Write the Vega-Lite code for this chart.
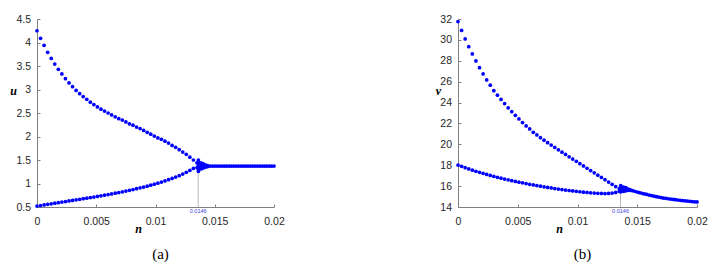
{
  "$schema": "https://vega.github.io/schema/vega-lite/v6.json",
  "background": "white",
  "padding": {"left": 9, "top": 14, "right": 5, "bottom": 0},
  "spacing": 150,
  "config": {
    "view": {"stroke": null},
    "axis": {
      "grid": false,
      "domainColor": "#808080",
      "tickColor": "#808080",
      "tickSize": -3,
      "labelFont": "Liberation Sans",
      "labelFontSize": 10.5,
      "labelColor": "#262626",
      "labelFlush": false,
      "labelOverlap": false,
      "titleFont": "Liberation Serif",
      "titleFontStyle": "italic",
      "titleFontWeight": "bold",
      "titleFontSize": 12,
      "titleColor": "#000000"
    },
    "axisX": {"labelPadding": 12},
    "axisY": {"labelPadding": 9.5}
  },
  "datasets": {
    "pts": [
      {"n": 0, "u": 4.25, "v": 31.75},
      {"n": 0.0003, "u": 4.09, "v": 30.9},
      {"n": 0.0006, "u": 3.94, "v": 30.09},
      {"n": 0.0009, "u": 3.79, "v": 29.35},
      {"n": 0.0012, "u": 3.66, "v": 28.65},
      {"n": 0.0015, "u": 3.54, "v": 27.98},
      {"n": 0.0018, "u": 3.43, "v": 27.34},
      {"n": 0.0021, "u": 3.33, "v": 26.74},
      {"n": 0.0024, "u": 3.23, "v": 26.16},
      {"n": 0.0027, "u": 3.14, "v": 25.66},
      {"n": 0.003, "u": 3.06, "v": 25.14},
      {"n": 0.0033, "u": 2.98, "v": 24.7},
      {"n": 0.0036, "u": 2.91, "v": 24.3},
      {"n": 0.0039, "u": 2.85, "v": 23.9},
      {"n": 0.0042, "u": 2.79, "v": 23.5},
      {"n": 0.0045, "u": 2.73, "v": 23.13},
      {"n": 0.0048, "u": 2.68, "v": 22.78},
      {"n": 0.0051, "u": 2.63, "v": 22.43},
      {"n": 0.0054, "u": 2.58, "v": 22.08},
      {"n": 0.0057, "u": 2.54, "v": 21.76},
      {"n": 0.006, "u": 2.5, "v": 21.47},
      {"n": 0.0063, "u": 2.46, "v": 21.15},
      {"n": 0.0066, "u": 2.42, "v": 20.9},
      {"n": 0.0069, "u": 2.38, "v": 20.64},
      {"n": 0.0072, "u": 2.35, "v": 20.4},
      {"n": 0.0075, "u": 2.31, "v": 20.16},
      {"n": 0.0078, "u": 2.27, "v": 19.93},
      {"n": 0.0081, "u": 2.24, "v": 19.7},
      {"n": 0.0084, "u": 2.2, "v": 19.47},
      {"n": 0.0087, "u": 2.17, "v": 19.25},
      {"n": 0.009, "u": 2.13, "v": 19.03},
      {"n": 0.0093, "u": 2.09, "v": 18.81},
      {"n": 0.0096, "u": 2.05, "v": 18.59},
      {"n": 0.0099, "u": 2.01, "v": 18.37},
      {"n": 0.0102, "u": 1.97, "v": 18.15},
      {"n": 0.0105, "u": 1.94, "v": 17.93},
      {"n": 0.0108, "u": 1.9, "v": 17.71},
      {"n": 0.0111, "u": 1.86, "v": 17.49},
      {"n": 0.0114, "u": 1.81, "v": 17.27},
      {"n": 0.0117, "u": 1.77, "v": 17.05},
      {"n": 0.012, "u": 1.72, "v": 16.83},
      {"n": 0.0123, "u": 1.67, "v": 16.61},
      {"n": 0.0126, "u": 1.62, "v": 16.39},
      {"n": 0.0129, "u": 1.56, "v": 16.17},
      {"n": 0.0132, "u": 1.5, "v": 15.96},
      {"n": 0.0135, "u": 1.44, "v": 15.75},
      {"n": 0, "u": 0.52, "v": 18.02},
      {"n": 0.0003, "u": 0.53, "v": 17.89},
      {"n": 0.0006, "u": 0.545, "v": 17.76},
      {"n": 0.0009, "u": 0.557, "v": 17.64},
      {"n": 0.0012, "u": 0.568, "v": 17.53},
      {"n": 0.0015, "u": 0.58, "v": 17.42},
      {"n": 0.0018, "u": 0.592, "v": 17.32},
      {"n": 0.0021, "u": 0.604, "v": 17.22},
      {"n": 0.0024, "u": 0.616, "v": 17.12},
      {"n": 0.0027, "u": 0.628, "v": 17.02},
      {"n": 0.003, "u": 0.64, "v": 16.93},
      {"n": 0.0033, "u": 0.652, "v": 16.84},
      {"n": 0.0036, "u": 0.664, "v": 16.76},
      {"n": 0.0039, "u": 0.676, "v": 16.68},
      {"n": 0.0042, "u": 0.688, "v": 16.6},
      {"n": 0.0045, "u": 0.7, "v": 16.52},
      {"n": 0.0048, "u": 0.712, "v": 16.45},
      {"n": 0.0051, "u": 0.725, "v": 16.38},
      {"n": 0.0054, "u": 0.738, "v": 16.31},
      {"n": 0.0057, "u": 0.751, "v": 16.24},
      {"n": 0.006, "u": 0.765, "v": 16.17},
      {"n": 0.0063, "u": 0.779, "v": 16.11},
      {"n": 0.0066, "u": 0.793, "v": 16.05},
      {"n": 0.0069, "u": 0.808, "v": 15.99},
      {"n": 0.0072, "u": 0.823, "v": 15.93},
      {"n": 0.0075, "u": 0.839, "v": 15.87},
      {"n": 0.0078, "u": 0.855, "v": 15.82},
      {"n": 0.0081, "u": 0.872, "v": 15.77},
      {"n": 0.0084, "u": 0.889, "v": 15.72},
      {"n": 0.0087, "u": 0.907, "v": 15.67},
      {"n": 0.009, "u": 0.925, "v": 15.62},
      {"n": 0.0093, "u": 0.944, "v": 15.58},
      {"n": 0.0096, "u": 0.964, "v": 15.54},
      {"n": 0.0099, "u": 0.985, "v": 15.5},
      {"n": 0.0102, "u": 1.007, "v": 15.46},
      {"n": 0.0105, "u": 1.03, "v": 15.42},
      {"n": 0.0108, "u": 1.055, "v": 15.39},
      {"n": 0.0111, "u": 1.08, "v": 15.36},
      {"n": 0.0114, "u": 1.107, "v": 15.33},
      {"n": 0.0117, "u": 1.136, "v": 15.31},
      {"n": 0.012, "u": 1.167, "v": 15.3},
      {"n": 0.0123, "u": 1.2, "v": 15.29},
      {"n": 0.0126, "u": 1.237, "v": 15.3},
      {"n": 0.0129, "u": 1.277, "v": 15.33},
      {"n": 0.0132, "u": 1.32, "v": 15.39},
      {"n": 0.0135, "u": 1.34, "v": 15.5},
      {"n": 0.01362, "u": 1.26, "v": 15.45},
      {"n": 0.01362, "u": 1.3, "v": 15.55},
      {"n": 0.01362, "u": 1.34, "v": 15.65},
      {"n": 0.01362, "u": 1.38, "v": 15.75},
      {"n": 0.01362, "u": 1.42, "v": 15.85},
      {"n": 0.01362, "u": 1.46, "v": 15.95},
      {"n": 0.01362, "u": 1.5, "v": 16.05},
      {"n": 0.01385, "u": 1.31, "v": 15.5},
      {"n": 0.01385, "u": 1.34, "v": 15.6},
      {"n": 0.01385, "u": 1.37, "v": 15.7},
      {"n": 0.01385, "u": 1.4, "v": 15.8},
      {"n": 0.01385, "u": 1.44, "v": 15.9},
      {"n": 0.01405, "u": 1.33, "v": 15.55},
      {"n": 0.01405, "u": 1.36, "v": 15.65},
      {"n": 0.01405, "u": 1.39, "v": 15.75},
      {"n": 0.01405, "u": 1.42, "v": 15.85},
      {"n": 0.01425, "u": 1.35, "v": 15.6},
      {"n": 0.01425, "u": 1.39, "v": 15.7},
      {"n": 0.0144, "u": 1.36, "v": 15.6},
      {"n": 0.0144, "u": 1.38, "v": 15.66},
      {"n": 0.0146, "u": 1.37, "v": 15.56},
      {"n": 0.0148, "u": 1.37, "v": 15.5},
      {"n": 0.015, "u": 1.37, "v": 15.43},
      {"n": 0.0152, "u": 1.37, "v": 15.37},
      {"n": 0.0154, "u": 1.37, "v": 15.31},
      {"n": 0.0156, "u": 1.37, "v": 15.25},
      {"n": 0.0158, "u": 1.37, "v": 15.2},
      {"n": 0.016, "u": 1.37, "v": 15.14},
      {"n": 0.0162, "u": 1.37, "v": 15.09},
      {"n": 0.0164, "u": 1.37, "v": 15.04},
      {"n": 0.0166, "u": 1.37, "v": 14.99},
      {"n": 0.0168, "u": 1.37, "v": 14.95},
      {"n": 0.017, "u": 1.37, "v": 14.9},
      {"n": 0.0172, "u": 1.37, "v": 14.86},
      {"n": 0.0174, "u": 1.37, "v": 14.83},
      {"n": 0.0176, "u": 1.37, "v": 14.79},
      {"n": 0.0178, "u": 1.37, "v": 14.76},
      {"n": 0.018, "u": 1.37, "v": 14.73},
      {"n": 0.0182, "u": 1.37, "v": 14.7},
      {"n": 0.0184, "u": 1.37, "v": 14.67},
      {"n": 0.0186, "u": 1.37, "v": 14.64},
      {"n": 0.0188, "u": 1.37, "v": 14.62},
      {"n": 0.019, "u": 1.37, "v": 14.59},
      {"n": 0.0192, "u": 1.37, "v": 14.57},
      {"n": 0.0194, "u": 1.37, "v": 14.54},
      {"n": 0.0196, "u": 1.37, "v": 14.52},
      {"n": 0.0198, "u": 1.37, "v": 14.5},
      {"n": 0.02, "u": 1.37, "v": 14.48}
    ],
    "marker": [
      {"n": 0.0136, "u": 0.5, "u2": 1.3, "v": 14, "v2": 15.5, "label": "0.0146"}
    ]
  },
  "hconcat": [
    {
      "width": 237,
      "height": 188,
      "title": {"text": "(a)", "orient": "bottom", "font": "Liberation Serif", "fontSize": 15, "fontWeight": "normal", "color": "#000000", "dx": 5, "offset": 13},
      "encoding": {
        "x": {"field": "n", "type": "quantitative", "scale": {"domain": [0, 0.02], "nice": false},
              "axis": {"title": "n", "values": [0, 0.005, 0.01, 0.015, 0.02], "format": "~g", "titleX": 101, "titleY": 25, "titleAlign": "center", "titleBaseline": "alphabetic"}},
        "y": {"field": "u", "type": "quantitative", "scale": {"domain": [0.5, 4.5], "nice": false, "zero": false},
              "axis": {"title": "u", "values": [0.5, 1, 1.5, 2, 2.5, 3, 3.5, 4, 4.5], "format": "~g", "titleAngle": 0, "titleX": -24, "titleY": 71, "titleAlign": "center", "titleBaseline": "middle"}}
      },
      "layer": [
        {"data": {"name": "marker"}, "mark": {"type": "rule", "color": "#b8b8b8", "strokeWidth": 1}, "encoding": {"y2": {"field": "u2"}}},
        {"data": {"name": "pts"}, "mark": {"type": "point", "filled": true, "color": "#0000ff", "size": 14, "opacity": 1, "strokeWidth": 0}},
        {"data": {"name": "marker"}, "mark": {"type": "text", "color": "#4040e0", "fontSize": 5.5, "font": "Liberation Sans", "baseline": "top", "align": "center", "dy": 2}, "encoding": {"text": {"field": "label"}}}
      ]
    },
    {
      "width": 239,
      "height": 188,
      "title": {"text": "(b)", "orient": "bottom", "font": "Liberation Serif", "fontSize": 15, "fontWeight": "normal", "color": "#000000", "dx": 5, "offset": 13},
      "encoding": {
        "x": {"field": "n", "type": "quantitative", "scale": {"domain": [0, 0.02], "nice": false},
              "axis": {"title": "n", "values": [0, 0.005, 0.01, 0.015, 0.02], "format": "~g", "titleX": 101, "titleY": 25, "titleAlign": "center", "titleBaseline": "alphabetic"}},
        "y": {"field": "v", "type": "quantitative", "scale": {"domain": [14, 32], "nice": false, "zero": false},
              "axis": {"title": "v", "values": [14, 16, 18, 20, 22, 24, 26, 28, 30, 32], "format": "~g", "titleAngle": 0, "titleX": -20, "titleY": 71, "titleAlign": "center", "titleBaseline": "middle"}}
      },
      "layer": [
        {"data": {"name": "marker"}, "mark": {"type": "rule", "color": "#b8b8b8", "strokeWidth": 1}, "encoding": {"y2": {"field": "v2"}}},
        {"data": {"name": "pts"}, "mark": {"type": "point", "filled": true, "color": "#0000ff", "size": 14, "opacity": 1, "strokeWidth": 0}},
        {"data": {"name": "marker"}, "mark": {"type": "text", "color": "#4040e0", "fontSize": 5.5, "font": "Liberation Sans", "baseline": "top", "align": "center", "dy": 2}, "encoding": {"text": {"field": "label"}}}
      ]
    }
  ]
}
